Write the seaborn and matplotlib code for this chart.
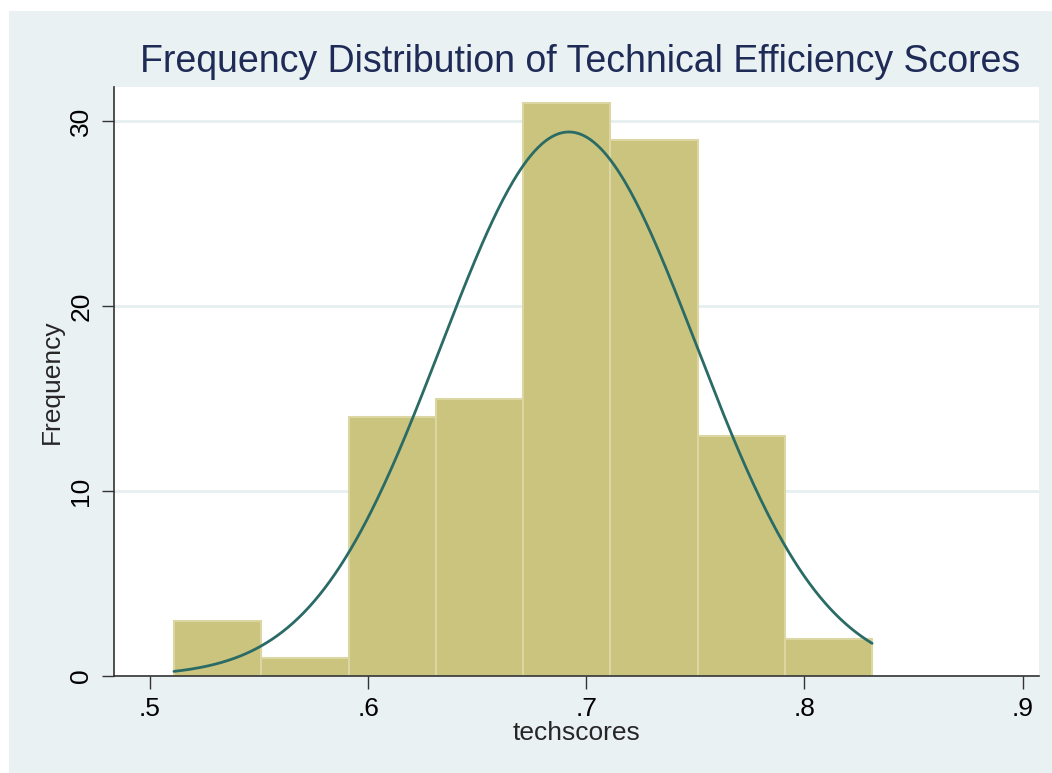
import numpy as np
import pandas as pd
import matplotlib
matplotlib.use("Agg")
import matplotlib.pyplot as plt
import seaborn as sns
from matplotlib.patches import Rectangle

# Data
bin_edges = [0.511, 0.551, 0.591, 0.631, 0.671, 0.711, 0.751, 0.791, 0.831]
counts = [3, 1, 14, 15, 31, 29, 13, 2]
fit_mean = 0.692
fit_sd = 0.0586
x_ticks = [0.5, 0.6, 0.7, 0.8, 0.9]
x_tick_labels = [".5", ".6", ".7", ".8", ".9"]
y_ticks = [0, 10, 20, 30]
y_tick_labels = ["0", "10", "20", "30"]
title = "Frequency Distribution of Technical Efficiency Scores"

sns.set_style("white")
plt.rcParams['font.family'] = ['Liberation Sans', 'DejaVu Sans']

W, H = 1052, 773
fig = plt.figure(figsize=(W / 100, H / 100), dpi=100, facecolor="white")
bg = "#eaf1f3"
fig.patches.append(Rectangle((9 / W, 0), 1 - 9 / W, 1 - 11 / H, transform=fig.transFigure,
                             facecolor=bg, edgecolor="none", zorder=-10))

left, right, top, bottom = 114, 1039, 87, 676
ax = fig.add_axes([left / W, 1 - bottom / H, (right - left) / W, (bottom - top) / H])
ax.set_facecolor("white")

centers = [(bin_edges[i] + bin_edges[i + 1]) / 2 for i in range(len(counts))]
df = pd.DataFrame({"techscores": centers, "count": counts})
sns.histplot(data=df, x="techscores", weights="count", bins=bin_edges, ax=ax,
             color="#cbc47e", alpha=1.0, edgecolor="#dcd7a2", linewidth=1.5, zorder=2)

# Fitted normal curve scaled to frequencies
bw = bin_edges[1] - bin_edges[0]
n = sum(counts)
xs = np.linspace(bin_edges[0], bin_edges[-1], 400)
ys = n * bw / (fit_sd * np.sqrt(2 * np.pi)) * np.exp(-0.5 * ((xs - fit_mean) / fit_sd) ** 2)
sns.lineplot(x=xs, y=ys, ax=ax, color="#2a6b66", linewidth=2, zorder=3)

ax.set_xlim(0.4835, 0.9075)
ax.set_ylim(0, 31.84)
ax.set_xticks(x_ticks)
ax.set_xticklabels(x_tick_labels, fontsize=19)
ax.set_yticks(y_ticks)
ax.set_yticklabels(y_tick_labels, fontsize=19, rotation=90, va="center")
ax.grid(axis="y", color="#e6eff1", linewidth=2, zorder=0)
ax.set_axisbelow(True)
for s in ["top", "right"]:
    ax.spines[s].set_visible(False)
for s in ["left", "bottom"]:
    ax.spines[s].set_color("#333333")
    ax.spines[s].set_linewidth(1.2)
ax.tick_params(axis="both", which="major", direction="out", length=9, width=1.0,
               color="#333333", labelcolor="black", left=True, bottom=True, pad=6)
ax.set_xlabel("techscores", fontsize=19, labelpad=0)
ax.set_ylabel("Frequency", fontsize=19, labelpad=4)

fig.text(580 / W, 1 - 62 / H, title, ha="center", va="center", fontsize=27, color="#1f2b57")

fig.savefig("out.png", dpi=100, facecolor="white")
